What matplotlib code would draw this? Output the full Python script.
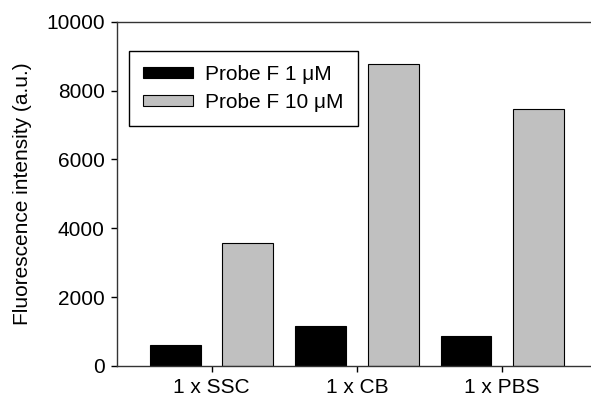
import matplotlib.pyplot as plt
import numpy as np

plt.rcParams["font.family"] = ["Liberation Sans", "DejaVu Sans"]

# Data
buffers = ["1 x SSC", "1 x CB", "1 x PBS"]
probe_1uM = [610, 1170, 865]
probe_10uM = [3575, 8770, 7460]
yticks = [0, 2000, 4000, 6000, 8000, 10000]

fig = plt.figure(figsize=(5.91, 4.03), dpi=100)
ax = fig.add_axes([0.198, 0.092, 0.802, 0.854])

x = np.arange(len(buffers))
w = 0.35
ax.bar(x - 0.25, probe_1uM, w, color="black", edgecolor="black", linewidth=0.8,
       label="Probe F 1 \u03bcM")
ax.bar(x + 0.25, probe_10uM, w, color="#c0c0c0", edgecolor="black", linewidth=0.8,
       label="Probe F 10 \u03bcM")

ax.set_xlim(-0.65, 2.61)
ax.set_ylim(0, 10000)
ax.set_xticks(x)
ax.set_xticklabels(buffers)
ax.set_yticks(yticks)
ax.tick_params(axis="both", labelsize=15, direction="out", length=4, width=1, pad=5)
ax.set_ylabel("Fluorescence intensity (a.u.)", fontsize=15, labelpad=10)
ax.spines["right"].set_visible(False)
for s in ["top", "left", "bottom"]:
    ax.spines[s].set_linewidth(1)
    ax.spines[s].set_color("#333333")

leg = ax.legend(loc="upper left", bbox_to_anchor=(0.0253, 0.9157), borderaxespad=0,
                fontsize=15, handlelength=2.4, handleheight=0.46, handletextpad=0.58,
                labelspacing=0.42, borderpad=0.68, fancybox=False, framealpha=1)
leg.get_frame().set_edgecolor("black")
leg.get_frame().set_linewidth(1)

fig.savefig("out.png", dpi=100)
